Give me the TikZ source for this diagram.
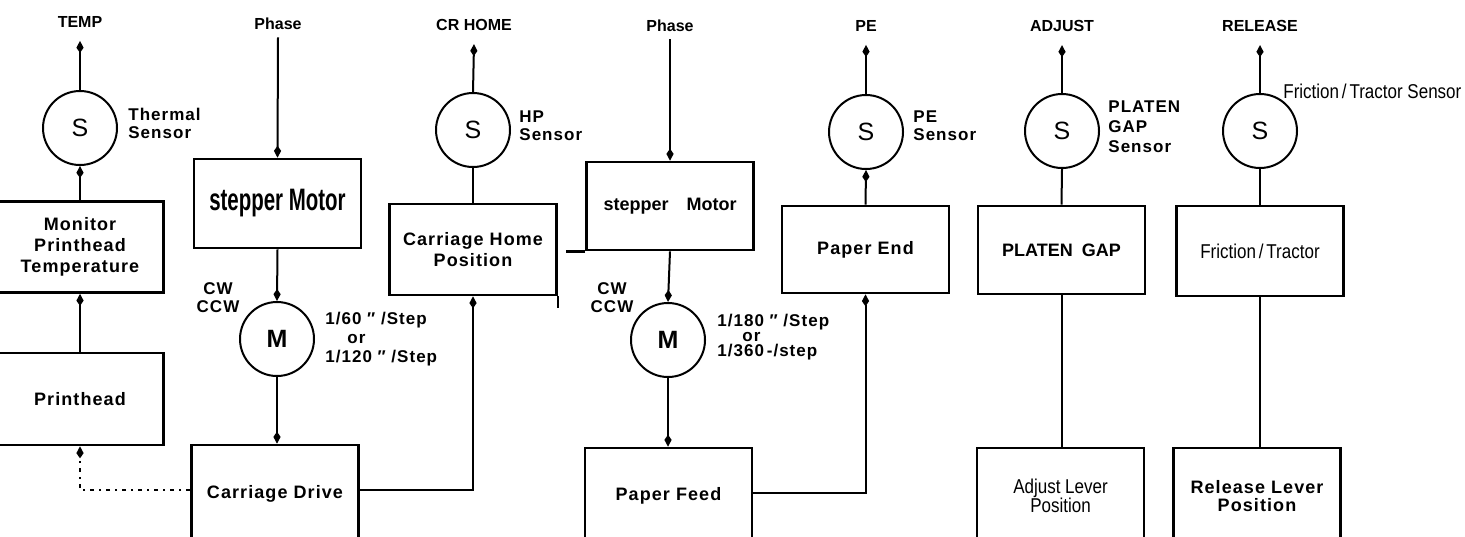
\documentclass[tikz,border=0pt]{standalone}
\usepackage{graphicx}
\usepackage{fontspec}
\setmainfont{Liberation Sans}
\newfontfamily\wide[LetterSpace=6]{Liberation Sans}
\newfontfamily\plain{Liberation Sans}
\usetikzlibrary{arrows.meta}
\newcommand{\cnd}[1]{\scalebox{0.85}[1]{\plain\mdseries #1}}
\begin{document}
\begin{tikzpicture}[x=0.5pt,y=-0.5pt,
  box/.style={draw, line width=1.3pt, minimum width=83.5pt, inner sep=0pt, align=center,
    font=\wide\bfseries\fontsize{9}{10.5}\selectfont},
  circ/.style={draw, circle, line width=1pt, minimum size=37pt, inner sep=0pt,
    font=\plain\fontsize{12.5}{12.5}\selectfont},
  lab/.style={font=\plain\bfseries\fontsize{8}{9}\selectfont, inner sep=0pt},
  note/.style={font=\wide\bfseries\fontsize{8.5}{9}\selectfont, align=left, inner sep=0pt, anchor=west},
  arr/.style={-{Kite[length=6pt,width=3.6pt,inset=2.6pt]}, line width=1pt},
  ln/.style={line width=1pt},
  dotl/.style={dash pattern=on 2pt off 2.5pt on 1pt off 2.5pt}]
\useasboundingbox (0,0) rectangle (1465,536);
\clip (0,0) rectangle (1465,536);

% top labels
\node[lab] (temp) at (80,22) {TEMP};
\node[lab] (ph1) at (278,24) {Phase};
\node[lab] (crh) at (474,25) {CR HOME};
\node[lab] (ph2) at (670,26) {Phase};
\node[lab] (pel) at (866,26) {PE};
\node[lab] (adj) at (1062,26) {ADJUST};
\node[lab] (rel) at (1260,26) {RELEASE};

% circles
\node[circ] (s1) at (80,128) {S};
\node[circ] (s2) at (473,130) {S};
\node[circ, font=\plain\bfseries\fontsize{12.5}{12.5}\selectfont] (m1) at (277,339) {M};
\node[circ] (s3) at (866,132) {S};
\node[circ, font=\plain\bfseries\fontsize{12.5}{12.5}\selectfont] (m2) at (668,340) {M};
\node[circ] (s4) at (1062,131) {S};
\node[circ] (s5) at (1260,131) {S};

% boxes
\node[box, minimum height=45.5pt] (mon) at (80,247) {Monitor\\Printhead\\Temperature};
\node[box, minimum height=46pt] (ph) at (80,399) {Printhead};
\node[box, minimum height=44.5pt] (sm1) at (277.5,203.5) {\scalebox{0.66}[1]{\plain\bfseries\fontsize{15.5}{15.5}\selectfont stepper Motor}};
\node[box, minimum height=45.5pt] (chp) at (473,249.5) {Carriage Home\\Position};
\node[box, minimum height=49pt] (cd) at (275,494) {Carriage Drive};
\node[box, minimum height=44pt] (sm2) at (670,206) {\plain\bfseries stepper\quad Motor};
\node[box, minimum height=43.5pt] (pe) at (865.5,249.5) {Paper End};
\node[box, minimum height=48pt] (pf) at (668.5,496) {Paper Feed};
\node[box, minimum height=44pt] (pg) at (1061.5,250) {\plain\bfseries PLATEN\enspace GAP};
\node[box, minimum height=45pt] (ft) at (1260,251) {\cnd{\fontsize{10}{11}\selectfont Friction\,/\,Tractor}};
\node[box, minimum height=48pt] (al) at (1060.5,496) {\cnd{\fontsize{10}{11}\selectfont Adjust Lever}\\[-1pt]\cnd{\fontsize{10}{11}\selectfont Position}};
\node[box, minimum height=48pt, font=\wide\bfseries\fontsize{9}{9}\selectfont] (rl) at (1257,496) {Release Lever\\Position};

% box edge extensions
\draw[line width=1.3pt] (chp.south east) -- ++(0,12);
\draw[line width=1.3pt] (sm2.south west) -- ++(-19,0);

% annotations
\node[note] (tsen) at (128,123) {Thermal\\Sensor};
\node[note] (hpsen) at (519,126) {HP\\Sensor};
\node[note] (pesen) at (913,126) {PE\\Sensor};
\node[note, font=\wide\bfseries\fontsize{8.5}{10}\selectfont] (pgsen) at (1108,127) {PLATEN\\GAP\\Sensor};
\node[anchor=west, inner sep=0pt] (ftsen) at (1283,91) {\cnd{\fontsize{10}{11}\selectfont Friction\,/\,Tractor Sensor}};
\node[note, align=center, anchor=center] (cw1) at (218,298) {CW\\CCW};
\node[note, align=center, anchor=center] (cw2) at (612,298) {CW\\CCW};
\node[note] (rate1) at (325,339) {1/60\,\,″\,\,/Step\\[0.3pt]\hspace{11pt}or\\[0.3pt]1/120\,\,″\,\,/Step};
\node[note, font=\wide\bfseries\fontsize{8.5}{7.4}\selectfont] (rate2) at (717,337) {1/180\,\,″\,\,/Step\\\hspace{12.5pt}or\\1/360\,-/step};

% connectors column 1
\draw[arr] (s1.north) -- ([yshift=-6.5pt]temp.south);
\draw[arr] (mon.north) -- (s1.south);
\draw[arr] (ph.north) -- (mon.south);
\draw[arr, dotl] ([yshift=2pt]cd.west) -| (ph.south);
% column 2
\draw[arr] ([yshift=-3.5pt]ph1.south) -- (sm1.north);
\draw[arr] (sm1.south) -- (m1.north);
\draw[arr] (m1.south) -- (m1.south |- cd.north);
\draw[arr] (s2.north) -- ([yshift=-6.5pt]crh.south);
\draw[ln] (chp.north) -- (s2.south);
\draw[arr] ([yshift=2pt]cd.east) -| (chp.south);
% column 3
\draw[arr] ([yshift=-3.5pt]ph2.south) -- (sm2.north);
\draw[arr] (sm2.south) -- (m2.north);
\draw[arr] (m2.south) -- (m2.south |- pf.north);
\draw[arr] (s3.north) -- ([yshift=-6.5pt]pel.south);
\draw[arr] (pe.north) -- (s3.south);
\draw[arr] ([yshift=1.5pt]pf.east) -| (pe.south);
% column 4
\draw[arr] (s4.north) -- ([yshift=-6.5pt]adj.south);
\draw[ln] (pg.north) -- (s4.south);
\draw[ln] (pg.south) -- (pg.south |- al.north);
% column 5
\draw[arr] (s5.north) -- ([yshift=-6.5pt]rel.south);
\draw[ln] (ft.north) -- (s5.south);
\draw[ln] (ft.south) -- (ft.south |- rl.north);
\end{tikzpicture}
\end{document}
